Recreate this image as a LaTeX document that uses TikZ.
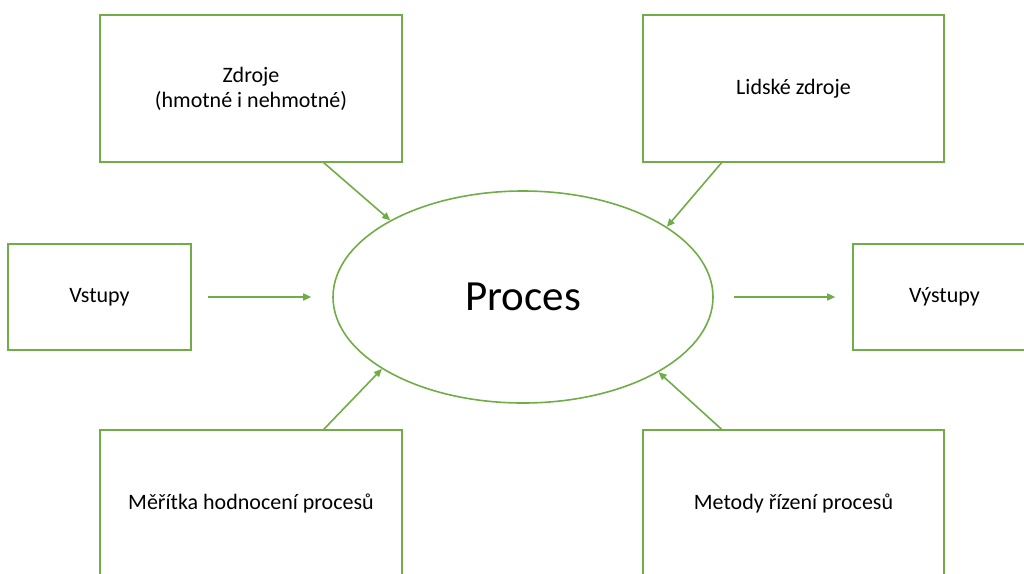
\documentclass[tikz,border=0pt]{standalone}
\usepackage{fontspec}
\setmainfont{Carlito}
\usepackage{xcolor}
\usepackage{tikz}
\usetikzlibrary{arrows.meta,shapes.geometric,calc}
\definecolor{zelena}{HTML}{70AD47}

\begin{document}
\begin{tikzpicture}[x=1pt,y=-1pt,
  ram/.style={draw=zelena,line width=1.6pt,fill=white,inner sep=0pt,align=center,
    font=\fontsize{22}{25}\selectfont},
  sipka/.style={draw=zelena,line width=1.6pt,-{Triangle[length=8pt,width=7pt]}}]
\useasboundingbox (0,0) rectangle (1024,573);
\node[ram,minimum width=302,minimum height=147] (zdr) at (251,88.5) {Zdroje\\(hmotné i nehmotné)};
\node[ram,minimum width=301,minimum height=147] (lid) at (793.5,88.5) {Lidské zdroje};
\node[ram,minimum width=183,minimum height=106] (vst) at (99.5,297) {Vstupy};
\node[ram,minimum width=183,minimum height=106] (vys) at (944.5,297) {Výstupy};
\node[ram,minimum width=302,minimum height=147] (mer) at (251,503.5) {Měřítka hodnocení procesů};
\node[ram,minimum width=301,minimum height=147] (met) at (793.5,503.5) {Metody řízení procesů};
\node[ellipse,draw=zelena,line width=1.6pt,minimum width=380,minimum height=212,inner sep=0pt,
  font=\fontsize{43}{50}\selectfont] (proc) at (523,297) {Proces};
% sipky
\draw[sipka] ($(zdr.south west)!0.74!(zdr.south east)$) -- (proc.150);
\draw[sipka] ($(lid.south west)!0.262!(lid.south east)$) -- (proc.26);
\draw[sipka] ([xshift=16]vst.east) -- ([xshift=-21]proc.west);
\draw[sipka] ([xshift=20]proc.east) -- ([xshift=-17]vys.west);
\draw[sipka] ($(mer.north west)!0.74!(mer.north east)$) -- (proc.207);
\draw[sipka] ($(met.north west)!0.262!(met.north east)$) -- (proc.331);
\end{tikzpicture}
\end{document}
